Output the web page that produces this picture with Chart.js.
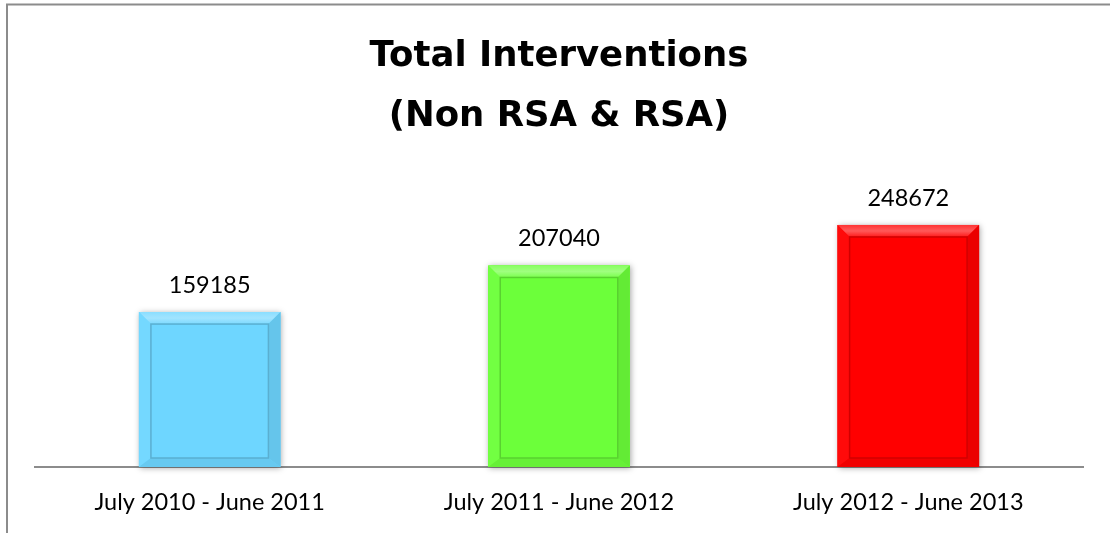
<!DOCTYPE html>
<html>
<head>
<meta charset="utf-8">
<title>Total Interventions</title>
<script src="https://cdn.jsdelivr.net/npm/chart.js@4"></script>
<style>
    html, body { margin: 0; padding: 0; background: #fff; }
    #wrap { position: relative; width: 1110px; height: 533px; }
</style>
</head>
<body>
<div id="wrap"><canvas id="chart" width="1110" height="533"></canvas></div>
<script>
// Interventions per financial year

const periods = ['July 2010 - June 2011', 'July 2011 - June 2012', 'July 2012 - June 2013'];
const interventions = [159185, 207040, 248672];
const titleLines = ['Total Interventions', '(Non RSA & RSA)'];

const barColors = [[110, 214, 255], [108, 255, 58], [255, 0, 0]];
const labelFont = 'Lato, "Open Sans", sans-serif';

function mix(rgb, target, t) {
    const c = rgb.map((v, i) => Math.round(v + (target[i] - v) * t));
    return `rgb(${c[0]},${c[1]},${c[2]})`;
}
const lighten = (rgb, t) => mix(rgb, [255, 255, 255], t);
const darken = (rgb, t) => mix(rgb, [0, 0, 0], t);

// thin grey frame along the top and left edge
const framePlugin = {
    id: 'frame',
    beforeDraw(chart) {
        const ctx = chart.ctx;
        ctx.save();
        ctx.strokeStyle = '#8c8c8c';
        ctx.lineWidth = 2;
        ctx.beginPath();
        ctx.moveTo(1110, 4.5);
        ctx.lineTo(7, 4.5);
        ctx.lineTo(7, 533);
        ctx.stroke();
        ctx.restore();
    }
};

function trap(ctx, pts, fill) {
    ctx.beginPath();
    ctx.moveTo(pts[0][0], pts[0][1]);
    for (let i = 1; i < pts.length; i++) ctx.lineTo(pts[i][0], pts[i][1]);
    ctx.closePath();
    ctx.fillStyle = fill;
    ctx.fill();
}

// soft shadow under each bar plus bevelled edges on top
const bevelPlugin = {
    id: 'bevel',
    beforeDatasetsDraw(chart) {
        const ctx = chart.ctx;
        chart.getDatasetMeta(0).data.forEach((bar, i) => {
            const l = bar.x - bar.width / 2, r = bar.x + bar.width / 2;
            ctx.save();
            ctx.shadowColor = 'rgba(0,0,0,0.35)';
            ctx.shadowBlur = 6;
            ctx.shadowOffsetX = 1;
            ctx.shadowOffsetY = 1;
            ctx.fillStyle = lighten(barColors[i], 0);
            ctx.fillRect(l, bar.y, r - l, bar.base - bar.y);
            ctx.restore();
        });
    },
    afterDatasetsDraw(chart) {
        const ctx = chart.ctx;
        const b = 12, bb = 9;
        chart.getDatasetMeta(0).data.forEach((bar, i) => {
            const col = barColors[i];
            const l = bar.x - bar.width / 2, r = bar.x + bar.width / 2;
            const t = bar.y, btm = bar.base;
            ctx.save();
            const g = ctx.createLinearGradient(0, t, 0, t + b);
            g.addColorStop(0, lighten(col, 0.2));
            g.addColorStop(0.5, lighten(col, 0.35));
            g.addColorStop(1, lighten(col, 0.1));
            trap(ctx, [[l, t], [r, t], [r - b, t + b], [l + b, t + b]], g);
            trap(ctx, [[l, t], [l + b, t + b], [l + b, btm - bb], [l, btm]], lighten(col, 0.04));
            trap(ctx, [[r, t], [r, btm], [r - b, btm - bb], [r - b, t + b]], darken(col, 0.08));
            trap(ctx, [[l, btm], [l + b, btm - bb], [r - b, btm - bb], [r, btm]], darken(col, 0.06));
            ctx.strokeStyle = darken(col, 0.18);
            ctx.lineWidth = 1.5;
            ctx.strokeRect(l + b, t + b, r - l - 2 * b, btm - bb - t - b);
            ctx.restore();
        });
    }
};

// value printed above each bar
const valuePlugin = {
    id: 'values',
    afterDatasetsDraw(chart) {
        const ctx = chart.ctx;
        ctx.save();
        ctx.font = '23.5px ' + labelFont;
        ctx.fillStyle = '#000';
        ctx.textAlign = 'center';
        ctx.textBaseline = 'middle';
        chart.getDatasetMeta(0).data.forEach((bar, i) => {
            ctx.fillText(String(interventions[i]), bar.x, bar.y - 27);
        });
        ctx.restore();
    }
};

new Chart(document.getElementById('chart'), {
    type: 'bar',
    data: {
        labels: periods,
        datasets: [{
            data: interventions,
            backgroundColor: barColors.map(c => lighten(c, 0)),
            borderWidth: 0,
            barPercentage: 0.405,
            categoryPercentage: 1
        }]
    },
    options: {
        responsive: false,
        animation: false,
        events: [],
        layout: { padding: { left: 35, right: 27, bottom: 0, top: 0 } },
        plugins: {
            legend: { display: false },
            tooltip: { enabled: false },
            title: {
                display: true,
                text: titleLines,
                color: '#000',
                font: { family: '"DejaVu Sans", sans-serif', size: 35.5, weight: 'bold', lineHeight: 1.69 },
                padding: { top: 26.5, bottom: 28.5 }
            }
        },
        scales: {
            x: {
                grid: { display: false, drawTicks: false },
                border: { display: true, color: '#8c8c8c', width: 2 },
                ticks: { color: '#000', font: { family: labelFont, size: 23.5 }, padding: 21 },
                afterFit(scale) { scale.height = 66; }
            },
            y: {
                display: false,
                min: 0,
                max: 300000
            }
        }
    },
    plugins: [framePlugin, bevelPlugin, valuePlugin]
});
</script>
</body>
</html>
